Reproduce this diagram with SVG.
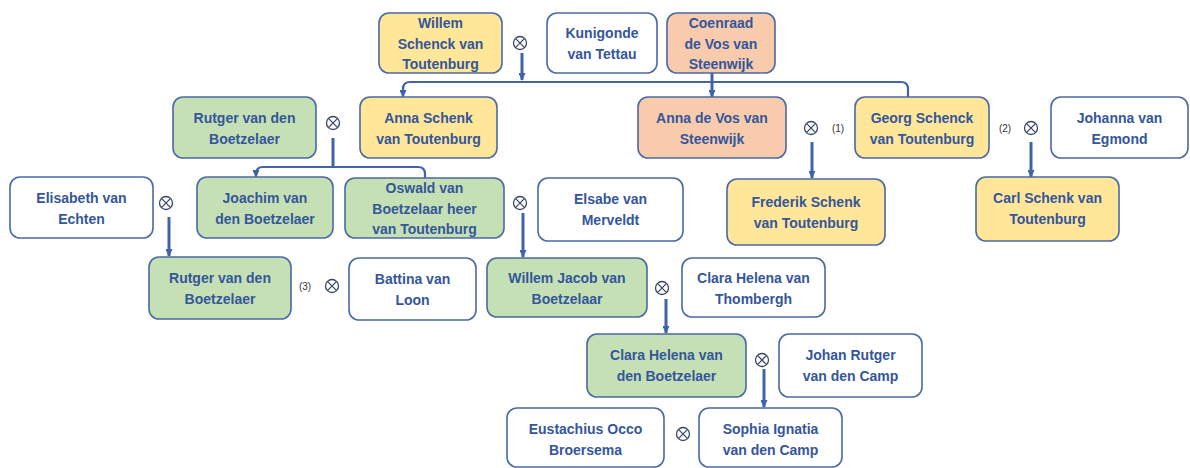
<svg xmlns="http://www.w3.org/2000/svg" xmlns:xlink="http://www.w3.org/1999/xlink" width="1190" height="468" viewBox="0 0 1190 468">
<style>
.n{stroke:#4A6AA3;stroke-width:1.6}
.y{fill:#FFE699}.g{fill:#C5E0B4}.o{fill:#F8CBAD}.w{fill:#FFFFFF}
.t{font-family:"Liberation Sans",Arial,sans-serif;font-size:14px;font-weight:bold;fill:#34569A;text-anchor:middle}
.c{fill:none;stroke:#3F64A8;stroke-width:2.2}
.v{fill:none;stroke:#3F64A8;stroke-width:3}
.lb{font-family:"Liberation Sans",Arial,sans-serif;font-size:10px;fill:#333;text-anchor:middle}
</style>
<defs>
<marker id="ah" markerUnits="userSpaceOnUse" markerWidth="8" markerHeight="7" refX="7" refY="3.5" orient="auto">
<path d="M0,0 L8,3.5 L0,7 z" fill="#3F64A8"/>
</marker>
<symbol id="m" viewBox="-8 -8 16 16" width="16" height="16" overflow="visible">
<circle r="6.5" fill="#fff" stroke="#3A4766" stroke-width="1.3"/>
<path d="M-4.6,-4.6 L4.6,4.6 M4.6,-4.6 L-4.6,4.6" stroke="#3A4766" stroke-width="1.3"/>
</symbol>
</defs>
<rect width="1190" height="468" fill="#fff"/>

<g id="connectors">
<path class="v" d="M522,53 L522,80" marker-end="url(#ah)"/>
<path class="c" d="M403,96 L403,89 Q403,82 410,82 L901,82 Q908,82 908,89 L908,97"/>
<path class="c" d="M403,86 L403,97" marker-end="url(#ah)"/>
<path class="v" d="M712,73 L712,97" marker-end="url(#ah)"/>
<path class="v" d="M333,138 L333,167"/>
<path class="c" d="M333,167 L263,167 Q256,167 256,174 L256,177" marker-end="url(#ah)"/>
<path class="c" d="M333,167 L418,167 Q425,167 425,174 L425,178"/>
<path class="v" d="M169,217 L169,256" marker-end="url(#ah)"/>
<path class="v" d="M523,213 L523,257" marker-end="url(#ah)"/>
<path class="v" d="M812,142 L812,178" marker-end="url(#ah)"/>
<path class="v" d="M1031,142 L1031,177" marker-end="url(#ah)"/>
<path class="v" d="M666,299 L666,333" marker-end="url(#ah)"/>
<path class="v" d="M764,369 L764,407" marker-end="url(#ah)"/>
</g>

<g id="marriages">
<use xlink:href="#m" href="#m" x="512" y="35"/>
<use xlink:href="#m" href="#m" x="325" y="115"/>
<use xlink:href="#m" href="#m" x="803" y="120"/>
<use xlink:href="#m" href="#m" x="1023" y="120"/>
<use xlink:href="#m" href="#m" x="158" y="195"/>
<use xlink:href="#m" href="#m" x="512" y="195"/>
<use xlink:href="#m" href="#m" x="324" y="278"/>
<use xlink:href="#m" href="#m" x="654" y="280"/>
<use xlink:href="#m" href="#m" x="754" y="352"/>
<use xlink:href="#m" href="#m" x="675" y="426"/>
<text class="lb" x="838" y="132">(1)</text>
<text class="lb" x="1005" y="132">(2)</text>
<text class="lb" x="305" y="290">(3)</text>
</g>

<g id="n1"><rect class="n y" x="379" y="13" width="123" height="60" rx="10"/>
<text class="t" x="440.5" y="28">Willem</text><text class="t" x="440.5" y="49">Schenck van</text><text class="t" x="440.5" y="69">Toutenburg</text></g>
<g id="n2"><rect class="n w" x="547" y="13" width="110" height="60" rx="10"/>
<text class="t" x="602" y="38">Kunigonde</text><text class="t" x="602" y="59">van Tettau</text></g>
<g id="n3"><rect class="n o" x="667" y="13" width="108" height="60" rx="10"/>
<text class="t" x="721" y="28">Coenraad</text><text class="t" x="721" y="49">de Vos van</text><text class="t" x="721" y="69">Steenwijk</text></g>

<g id="n4"><rect class="n g" x="173" y="97" width="143" height="61" rx="10"/>
<text class="t" x="244.5" y="123">Rutger van den</text><text class="t" x="244.5" y="144">Boetzelaer</text></g>
<g id="n5"><rect class="n y" x="360" y="97" width="137" height="61" rx="10"/>
<text class="t" x="428.5" y="123">Anna Schenk</text><text class="t" x="428.5" y="144">van Toutenburg</text></g>
<g id="n6"><rect class="n o" x="638" y="97" width="148" height="61" rx="10"/>
<text class="t" x="712" y="123">Anna de Vos van</text><text class="t" x="712" y="144">Steenwijk</text></g>
<g id="n7"><rect class="n y" x="855" y="97" width="134" height="61" rx="10"/>
<text class="t" x="922" y="123">Georg Schenck</text><text class="t" x="922" y="144">van Toutenburg</text></g>
<g id="n8"><rect class="n w" x="1051" y="97" width="137" height="61" rx="10"/>
<text class="t" x="1119.5" y="123">Johanna van</text><text class="t" x="1119.5" y="144">Egmond</text></g>

<g id="n9"><rect class="n w" x="10" y="177" width="143" height="61" rx="10"/>
<text class="t" x="81.5" y="203">Elisabeth van</text><text class="t" x="81.5" y="224">Echten</text></g>
<g id="n10"><rect class="n g" x="197" y="177" width="136" height="61" rx="10"/>
<text class="t" x="265" y="203">Joachim van</text><text class="t" x="265" y="224">den Boetzelaer</text></g>
<g id="n11"><rect class="n g" x="345" y="178" width="159" height="60" rx="10"/>
<text class="t" x="424.5" y="193">Oswald van</text><text class="t" x="424.5" y="214">Boetzelaar heer</text><text class="t" x="424.5" y="234">van Toutenburg</text></g>
<g id="n12"><rect class="n w" x="538" y="178" width="145" height="63" rx="10"/>
<text class="t" x="610.5" y="204">Elsabe van</text><text class="t" x="610.5" y="225">Merveldt</text></g>
<g id="n13"><rect class="n y" x="727" y="179" width="158" height="66" rx="10"/>
<text class="t" x="806" y="207">Frederik Schenk</text><text class="t" x="806" y="228">van Toutenburg</text></g>
<g id="n14"><rect class="n y" x="976" y="177" width="143" height="64" rx="10"/>
<text class="t" x="1047.5" y="203">Carl Schenk van</text><text class="t" x="1047.5" y="224">Toutenburg</text></g>

<g id="n15"><rect class="n g" x="149" y="257" width="142" height="62" rx="10"/>
<text class="t" x="220" y="283">Rutger van den</text><text class="t" x="220" y="304">Boetzelaer</text></g>
<g id="n16"><rect class="n w" x="349" y="258" width="127" height="62" rx="10"/>
<text class="t" x="412.5" y="284">Battina van</text><text class="t" x="412.5" y="305">Loon</text></g>
<g id="n17"><rect class="n g" x="487" y="258" width="160" height="59" rx="10"/>
<text class="t" x="567" y="283">Willem Jacob van</text><text class="t" x="567" y="304">Boetzelaar</text></g>
<g id="n18"><rect class="n w" x="682" y="258" width="143" height="59" rx="10"/>
<text class="t" x="753.5" y="283">Clara Helena van</text><text class="t" x="753.5" y="304">Thombergh</text></g>

<g id="n19"><rect class="n g" x="587" y="334" width="159" height="63" rx="10"/>
<text class="t" x="666.5" y="360">Clara Helena van</text><text class="t" x="666.5" y="381">den Boetzelaer</text></g>
<g id="n20"><rect class="n w" x="779" y="334" width="143" height="63" rx="10"/>
<text class="t" x="850.5" y="360">Johan Rutger</text><text class="t" x="850.5" y="381">van den Camp</text></g>

<g id="n21"><rect class="n w" x="507" y="408" width="157" height="59" rx="10"/>
<text class="t" x="585.5" y="434">Eustachius Occo</text><text class="t" x="585.5" y="455">Broersema</text></g>
<g id="n22"><rect class="n w" x="699" y="408" width="143" height="59" rx="10"/>
<text class="t" x="770.5" y="434">Sophia Ignatia</text><text class="t" x="770.5" y="455">van den Camp</text></g>
</svg>
